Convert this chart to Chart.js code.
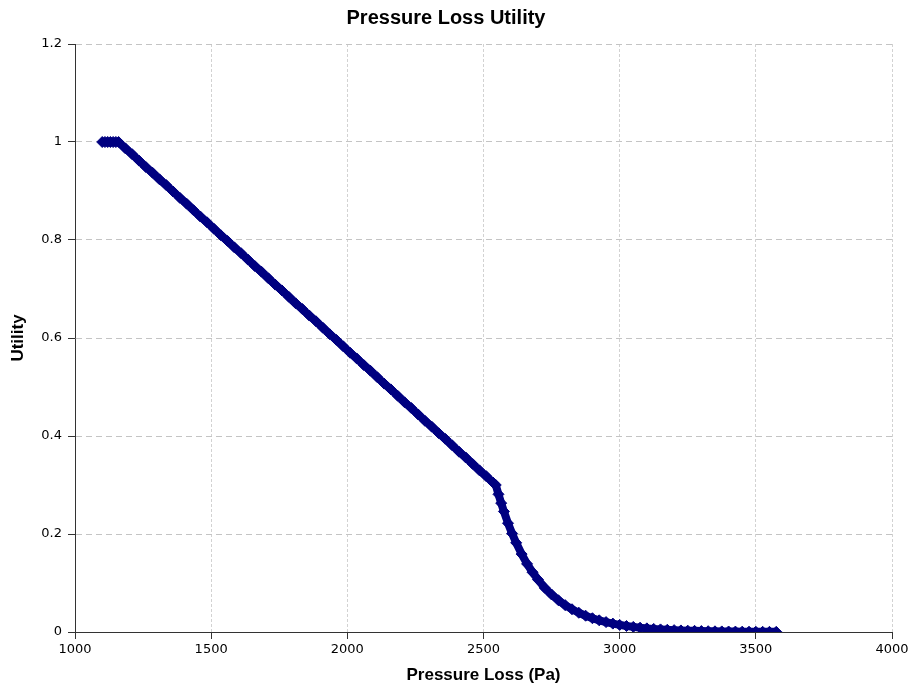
<!DOCTYPE html>
<html>
<head>
<meta charset="utf-8">
<script src="https://cdn.jsdelivr.net/npm/chart.js@4"></script>
<style>
  html, body { margin: 0; padding: 0; background: #ffffff; }
  #wrap { width: 913px; height: 686px; }
</style>
</head>
<body>
<div id="wrap"><canvas id="chart" width="913" height="686"></canvas></div>
<script>
// Pressure loss (Pa)
const pressure = [
  1100, 1110, 1120, 1130, 1140, 1150, 1160,
  1185, 1210, 1235, 1260, 1285, 1310, 1335, 1360, 1385, 1410,
  1435, 1460, 1485, 1510, 1535, 1560, 1585, 1610, 1635, 1660,
  1685, 1710, 1735, 1760, 1785, 1810, 1835, 1860, 1885, 1910,
  1935, 1960, 1985, 2010, 2035, 2060, 2085, 2110, 2135, 2160,
  2185, 2210, 2235, 2260, 2285, 2310, 2335, 2360, 2385, 2410,
  2435, 2460, 2485, 2510, 2535, 2545,
  2555, 2565, 2575, 2590, 2605, 2620, 2640, 2660, 2680, 2700,
  2725, 2750, 2775, 2800, 2825, 2850, 2875, 2900, 2925, 2950,
  2975, 3000, 3025, 3050, 3075, 3100, 3125, 3150, 3175, 3200,
  3225, 3250, 3275, 3300, 3325, 3350, 3375, 3400, 3425, 3450,
  3475, 3500, 3525, 3550, 3575
];

// Utility at each pressure loss
const utility = [
  1, 1, 1, 1, 1, 1, 1,
  0.987, 0.975, 0.962, 0.949, 0.937, 0.924, 0.912, 0.899, 0.886, 0.874,
  0.861, 0.848, 0.836, 0.823, 0.810, 0.798, 0.785, 0.773, 0.760, 0.747,
  0.735, 0.722, 0.709, 0.697, 0.684, 0.671, 0.659, 0.646, 0.634, 0.621,
  0.608, 0.596, 0.583, 0.570, 0.558, 0.545, 0.533, 0.520, 0.507, 0.495,
  0.482, 0.469, 0.457, 0.444, 0.431, 0.419, 0.406, 0.394, 0.381, 0.368,
  0.356, 0.343, 0.330, 0.318, 0.305, 0.300,
  0.281, 0.263, 0.246, 0.222, 0.201, 0.182, 0.159, 0.139, 0.122, 0.107,
  0.090, 0.0765, 0.0648, 0.0548, 0.0464, 0.0393, 0.0332, 0.0281, 0.0238, 0.0202,
  0.0171, 0.0145, 0.0122, 0.0104, 0.0088, 0.0074, 0.0063, 0.0053, 0.0045, 0.0038,
  0.0032, 0.0027, 0.0023, 0.0019, 0.0016, 0.0014, 0.0012, 0.0010, 0.0008, 0.0007,
  0.0006, 0.0005, 0.0004, 0.0003, 0.0003
];

const xTicks = [1000, 1500, 2000, 2500, 3000, 3500, 4000];
const yTicks = [0, 0.2, 0.4, 0.6, 0.8, 1, 1.2];

const navy = '#000080';
const axisColor = '#333333';
const tickFont = {family: '"DejaVu Sans", sans-serif', size: 13};
const titleFont = {family: '"Liberation Sans", Arial, sans-serif', size: 17, weight: 'bold'};

const points = pressure.map((p, i) => ({x: p, y: utility[i]}));

const config = {
  type: 'scatter',
  data: {
    datasets: [{
      data: points,
      showLine: true,
      borderColor: navy,
      backgroundColor: navy,
      borderWidth: 8,
      borderJoinStyle: 'round',
      pointStyle: 'rectRot',
      pointRadius: 5.5,
      pointBorderWidth: 1,
      pointBackgroundColor: navy,
      pointBorderColor: navy
    }]
  },
  options: {
    responsive: false,
    animation: false,
    layout: {
      padding: {top: 0, right: 21, bottom: 0, left: 0}
    },
    plugins: {
      legend: {display: false},
      tooltip: {enabled: false},
      title: {
        display: true,
        text: 'Pressure Loss Utility',
        color: '#000000',
        font: {family: '"Liberation Sans", Arial, sans-serif', size: 20, weight: 'bold'},
        padding: {top: 6, bottom: 14}
      }
    },
    scales: {
      x: {
        type: 'linear',
        min: 1000,
        max: 4000,
        afterBuildTicks: (scale) => {
          scale.ticks = xTicks.map(v => ({value: v}));
        },
        afterFit: (scale) => {
          scale.height = 54;
        },
        ticks: {
          color: '#000000',
          font: tickFont,
          padding: 3,
          maxRotation: 0,
          callback: (value) => String(value)
        },
        grid: {
          color: (ctx) => ctx.tick && ctx.tick.value === 1000 ? 'rgba(0,0,0,0)' : '#d2d2d2',
          lineWidth: 1,
          tickColor: axisColor,
          tickLength: 7
        },
        border: {
          display: true,
          color: axisColor,
          width: 1,
          dash: [3, 2]
        },
        title: {
          display: true,
          text: 'Pressure Loss (Pa)',
          color: '#000000',
          font: titleFont,
          padding: {top: 5, bottom: 0}
        }
      },
      y: {
        type: 'linear',
        min: 0,
        max: 1.2,
        afterBuildTicks: (scale) => {
          scale.ticks = yTicks.map(v => ({value: v}));
        },
        afterFit: (scale) => {
          scale.width = 75;
        },
        ticks: {
          color: '#000000',
          font: tickFont,
          padding: 6,
          callback: (value) => String(Math.round(value * 10) / 10)
        },
        grid: {
          color: (ctx) => ctx.tick && ctx.tick.value === 0 ? 'rgba(0,0,0,0)' : '#c4c4c4',
          lineWidth: 1,
          tickColor: axisColor,
          tickLength: 7
        },
        border: {
          display: true,
          color: axisColor,
          width: 1,
          dash: [6, 4]
        },
        title: {
          display: true,
          text: 'Utility',
          color: '#000000',
          font: titleFont,
          padding: {top: 8, bottom: 0}
        }
      }
    }
  }
};

new Chart(document.getElementById('chart'), config);
</script>
</body>
</html>
